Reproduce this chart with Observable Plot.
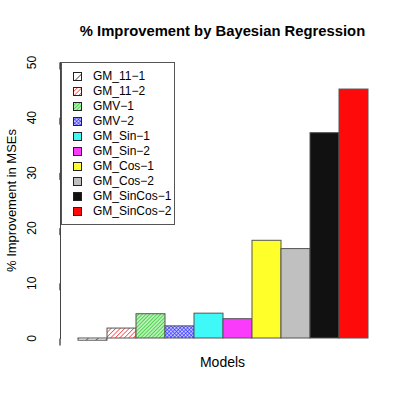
<!DOCTYPE html>
<html><head><meta charset="utf-8">
<script src="https://cdn.jsdelivr.net/npm/d3@7"></script>
<script src="https://cdn.jsdelivr.net/npm/@observablehq/plot@0.6"></script>
<style>
body{margin:0;background:#fff;font-family:"Liberation Sans",Arial,sans-serif}
#wrap{position:relative;width:415px;height:415px}
#legend{position:absolute;left:61px;top:62px;width:114px;height:163px;border:1px solid #555;background:#fff;box-sizing:border-box;padding-top:6px;font-size:12px;color:#000}
.row{height:15px;line-height:15px;display:flex;align-items:center;white-space:nowrap}
.row svg{margin-left:11px;margin-right:11px;flex:none}
</style></head><body>
<svg width="0" height="0" style="position:absolute">
<defs>
<pattern id="p1" patternUnits="userSpaceOnUse" width="7" height="7" patternTransform="rotate(45)">
<rect width="7" height="7" fill="#fff"/><line x1="0" y1="0" x2="0" y2="7" stroke="#000" stroke-width="1.2"/></pattern>
<pattern id="p2" patternUnits="userSpaceOnUse" width="3.2" height="3.2" patternTransform="rotate(45)">
<rect width="3.2" height="3.2" fill="#fff"/><line x1="0" y1="0" x2="0" y2="3.2" stroke="#ff2020" stroke-width="1.3"/></pattern>
<pattern id="p3" patternUnits="userSpaceOnUse" width="2.6" height="2.6" patternTransform="rotate(45)">
<rect width="2.6" height="2.6" fill="#b8f0b8"/><line x1="0" y1="0" x2="0" y2="2.6" stroke="#22c822" stroke-width="1.3"/></pattern>
<pattern id="p4" patternUnits="userSpaceOnUse" width="2.6" height="2.6" patternTransform="rotate(45)">
<rect width="2.6" height="2.6" fill="#c8c8ff"/><line x1="0" y1="0" x2="0" y2="2.6" stroke="#2020ff" stroke-width="1.1"/><line x1="0" y1="0" x2="2.6" y2="0" stroke="#2020ff" stroke-width="1.1"/></pattern>
</defs></svg>
<div id="wrap"><div id="legend"></div></div>
<script>
const models = ["GM_11−1","GM_11−2","GMV−1","GMV−2","GM_Sin−1","GM_Sin−2","GM_Cos−1","GM_Cos−2","GM_SinCos−1","GM_SinCos−2"];
const improvement = [-0.4, 1.8, 4.4, 2.2, 4.5, 3.5, 17.7, 16.2, 37.2, 45.1];
const palette = ["url(#p1)","url(#p2)","url(#p3)","url(#p4)","#3ff8f8","#fb3bfb","#ffff2a","#c0c0c0","#111111","#ff0a0a"];
const yTicks = [0,10,20,30,40,50];
const title = "% Improvement by Bayesian Regression";
const yLabel = "% Improvement in MSEs";
const xLabel = "Models";

const data = models.map((m,i)=>({model:m, value:improvement[i], fill:palette[i]}));

const chart = Plot.plot({
  width:415, height:415,
  marginTop:62, marginBottom:77, marginLeft:60, marginRight:31,
  style:{fontFamily:"Liberation Sans, Arial, sans-serif", background:"#fff", color:"#000"},
  x:{domain:models, range:[73,372], padding:0, axis:null},
  y:{domain:[0,50], axis:null},
  color:{type:"identity"},
  marks:[
    Plot.barY(data,{x:"model", y:"value", fill:"fill", stroke:"#555", strokeWidth:1}),
    Plot.axisY({ticks:yTicks, tickSize:7, tickPadding:21, rotate:-90, textAnchor:"middle", lineAnchor:"middle", fontSize:12, label:null}),
    Plot.frame({anchor:"left", stroke:"#444"}),
    Plot.text([title], {frameAnchor:"top", dy:-31, lineAnchor:"middle", fontWeight:"bold", fontSize:14.8}),
    Plot.text([yLabel], {frameAnchor:"left", dx:-49, rotate:-90, textAnchor:"middle", lineAnchor:"middle", fontSize:13}),
    Plot.text([xLabel], {frameAnchor:"bottom", dy:24, lineAnchor:"middle", fontSize:14})
  ]
});
document.getElementById("wrap").insertBefore(chart, document.getElementById("legend"));

const legend = document.getElementById("legend");
models.forEach((m,i)=>{
  const row = document.createElement("div");
  row.className = "row";
  row.innerHTML = `<svg width="9" height="9"><rect x="0.5" y="0.5" width="8" height="8" fill="${palette[i]}" stroke="#222" stroke-width="1"/></svg><span>${m}</span>`;
  legend.appendChild(row);
});
</script>
</body></html>
